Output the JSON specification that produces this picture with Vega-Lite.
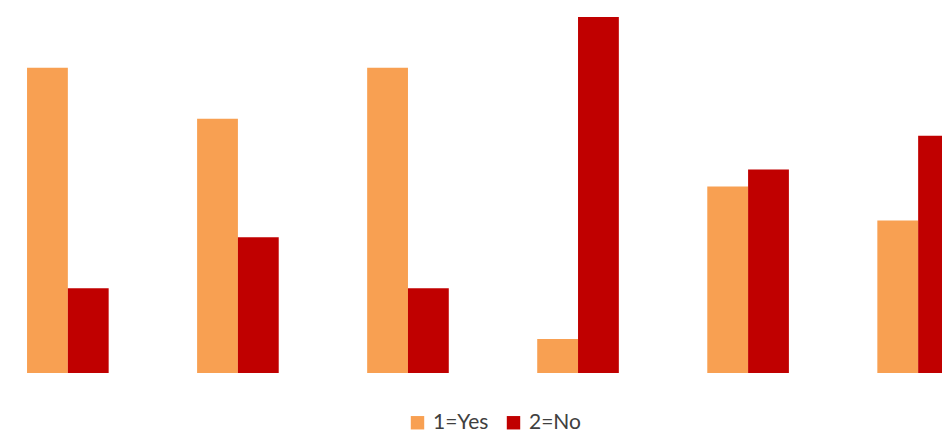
{
  "$schema": "https://vega.github.io/schema/vega-lite/v6.json",
  "width": 986,
  "height": 373,
  "padding": {"left": 0, "top": 0, "right": 0, "bottom": 59},
  "autosize": {"type": "none"},
  "background": "white",
  "config": {"view": {"stroke": null}},
  "data": {
    "values": [
      {"item": "A", "series": "1=Yes", "count": 18},
      {"item": "A", "series": "2=No", "count": 5},
      {"item": "B", "series": "1=Yes", "count": 15},
      {"item": "B", "series": "2=No", "count": 8},
      {"item": "C", "series": "1=Yes", "count": 18},
      {"item": "C", "series": "2=No", "count": 5},
      {"item": "D", "series": "1=Yes", "count": 2},
      {"item": "D", "series": "2=No", "count": 21},
      {"item": "E", "series": "1=Yes", "count": 11},
      {"item": "E", "series": "2=No", "count": 12},
      {"item": "F", "series": "1=Yes", "count": 9},
      {"item": "F", "series": "2=No", "count": 14}
    ]
  },
  "mark": {"type": "bar"},
  "encoding": {
    "x": {
      "field": "item",
      "type": "nominal",
      "scale": {"paddingInner": 0.52, "paddingOuter": 0.159},
      "axis": null
    },
    "xOffset": {"field": "series", "type": "nominal", "scale": {"paddingInner": 0, "paddingOuter": 0}},
    "y": {
      "field": "count",
      "type": "quantitative",
      "scale": {"domain": [0, 22], "nice": false},
      "axis": null
    },
    "color": {
      "field": "series",
      "type": "nominal",
      "scale": {"domain": ["1=Yes", "2=No"], "range": ["#F8A052", "#C00000"]},
      "legend": {
        "title": null,
        "orient": "none",
        "legendX": 407,
        "legendY": 412,
        "direction": "horizontal",
        "symbolType": "square",
        "symbolSize": 180,
        "symbolStrokeWidth": 0,
        "labelFont": "Lato",
        "labelFontSize": 21,
        "labelColor": "#404040",
        "labelOffset": 5,
        "columnPadding": 14
      }
    }
  }
}
